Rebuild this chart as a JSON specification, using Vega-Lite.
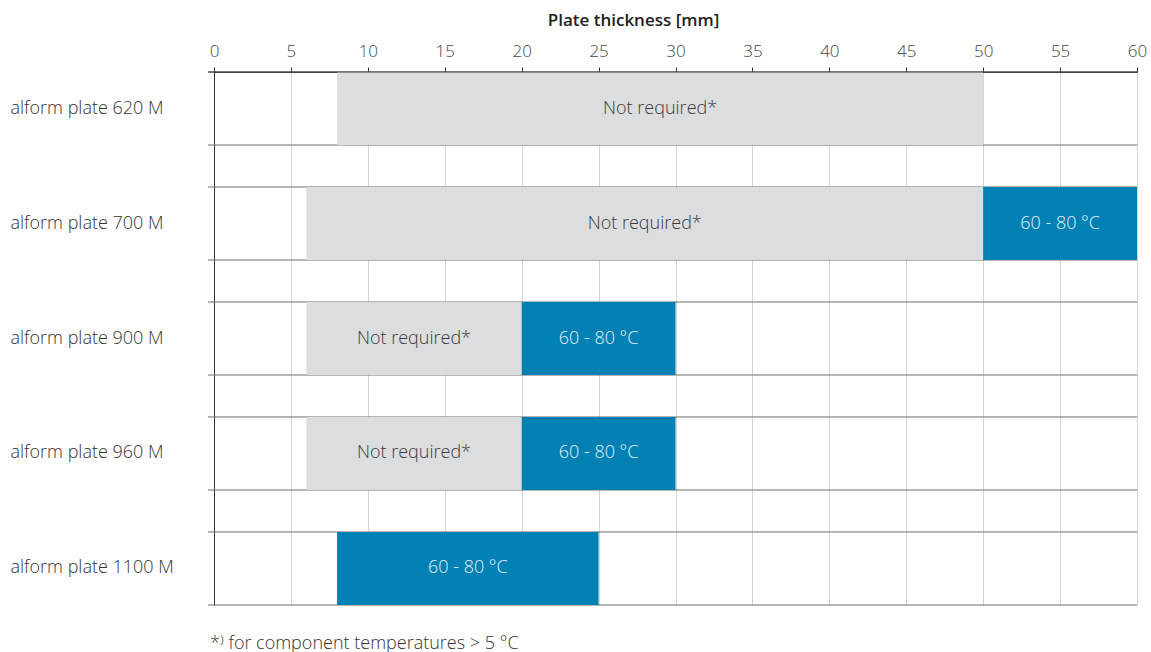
{
  "$schema": "https://vega.github.io/schema/vega-lite/v6.json",
  "width": 923,
  "height": 533,
  "autosize": {"type": "none"},
  "padding": {"left": 214, "top": 72, "right": 14, "bottom": 47},
  "background": "#ffffff",
  "config": {
    "font": "Open Sans",
    "view": {"stroke": null}
  },
  "datasets": {
    "bars": [
      {"plate": "alform plate 620 M", "label": "Not required*", "kind": "nr", "start": 8, "end": 50},
      {"plate": "alform plate 700 M", "label": "Not required*", "kind": "nr", "start": 6, "end": 50},
      {"plate": "alform plate 700 M", "label": "60 - 80 °C", "kind": "hot", "start": 50, "end": 60},
      {"plate": "alform plate 900 M", "label": "Not required*", "kind": "nr", "start": 6, "end": 20},
      {"plate": "alform plate 900 M", "label": "60 - 80 °C", "kind": "hot", "start": 20, "end": 30},
      {"plate": "alform plate 960 M", "label": "Not required*", "kind": "nr", "start": 6, "end": 20},
      {"plate": "alform plate 960 M", "label": "60 - 80 °C", "kind": "hot", "start": 20, "end": 30},
      {"plate": "alform plate 1100 M", "label": "60 - 80 °C", "kind": "hot", "start": 8, "end": 25}
    ],
    "plates": [
      {"plate": "alform plate 620 M"},
      {"plate": "alform plate 700 M"},
      {"plate": "alform plate 900 M"},
      {"plate": "alform plate 960 M"},
      {"plate": "alform plate 1100 M"}
    ]
  },
  "title": {
    "text": "*⁾ for component temperatures > 5 °C",
    "orient": "bottom",
    "anchor": "start",
    "frame": "group",
    "fontSize": 18,
    "fontWeight": 300,
    "color": "#333333",
    "offset": 29,
    "dx": -4
  },
  "layer": [
    {
      "data": {"name": "plates"},
      "mark": {"type": "rule", "color": "#6e6e6e", "strokeWidth": 1},
      "encoding": {
        "y": {
          "field": "plate",
          "type": "nominal",
          "bandPosition": 1,
          "scale": {"type": "band", "domain": ["alform plate 620 M", "alform plate 700 M", "alform plate 900 M", "alform plate 960 M", "alform plate 1100 M"], "paddingInner": 0.365, "paddingOuter": 0},
          "axis": {
            "title": null,
            "ticks": false,
            "tickSize": 0,
            "domain": true,
            "domainColor": "#333333",
            "labelAlign": "left",
            "labelPadding": 204,
            "labelFontSize": 18,
            "labelFontWeight": 300,
            "labelColor": "#333333",
            "labelLimit": 0,
            "grid": false,
            "bandPosition": 0.5
          }
        },
        "x": {
          "datum": -0.39,
          "type": "quantitative",
          "scale": {"domain": [0, 60], "nice": false, "zero": false},
          "axis": {
            "orient": "top",
            "title": "Plate thickness [mm]",
            "titleFontSize": 17,
            "titleFontWeight": 600,
            "titleColor": "#222222",
            "titlePadding": 13,
            "titleX": 419,
            "titleAnchor": "middle",
            "values": [0, 5, 10, 15, 20, 25, 30, 35, 40, 45, 50, 55, 60],
            "labelFontSize": 17,
            "labelFontWeight": 300,
            "labelColor": "#444444",
            "labelPadding": 7,
            "labelFlush": false,
            "ticks": true,
            "tickSize": 5,
            "tickColor": "#333333",
            "domainColor": "#333333",
            "grid": true,
            "gridColor": "#d4d4d4"
          }
        },
        "x2": {"datum": 60}
      }
    },
    {
      "data": {"name": "plates"},
      "mark": {"type": "rule", "color": "#6e6e6e", "strokeWidth": 1},
      "encoding": {
        "y": {"field": "plate", "type": "nominal", "bandPosition": 0},
        "x": {"datum": -0.39, "type": "quantitative"},
        "x2": {"datum": 60}
      }
    },
    {
      "data": {"name": "bars"},
      "mark": {"type": "bar", "cornerRadius": 0},
      "encoding": {
        "y": {"field": "plate", "type": "nominal"},
        "x": {"field": "start", "type": "quantitative"},
        "x2": {"field": "end"},
        "color": {
          "field": "kind",
          "type": "nominal",
          "scale": {"domain": ["nr", "hot"], "range": ["#dcdddf", "#0080b3"]},
          "legend": null
        }
      }
    },
    {
      "data": {"name": "plates"},
      "transform": [{"filter": "datum.plate === 'alform plate 620 M'"}],
      "mark": {"type": "rule", "color": "#333333", "strokeWidth": 1},
      "encoding": {
        "y": {"field": "plate", "type": "nominal", "bandPosition": 0},
        "x": {"datum": -0.39, "type": "quantitative"},
        "x2": {"datum": 60}
      }
    },
    {
      "data": {"name": "bars"},
      "transform": [
        {"fold": ["start", "end"], "as": ["edge", "pos"]},
        {"aggregate": [{"op": "mean", "field": "pos", "as": "mid"}], "groupby": ["plate", "label", "kind"]}
      ],
      "mark": {"type": "text", "fontSize": 18, "fontWeight": 300, "align": "center", "baseline": "middle"},
      "encoding": {
        "y": {"field": "plate", "type": "nominal"},
        "x": {"field": "mid", "type": "quantitative"},
        "text": {"field": "label"},
        "color": {"condition": {"test": "datum.kind === 'hot'", "value": "#e3f1f8"}, "value": "#3a3a3a"}
      }
    }
  ]
}
